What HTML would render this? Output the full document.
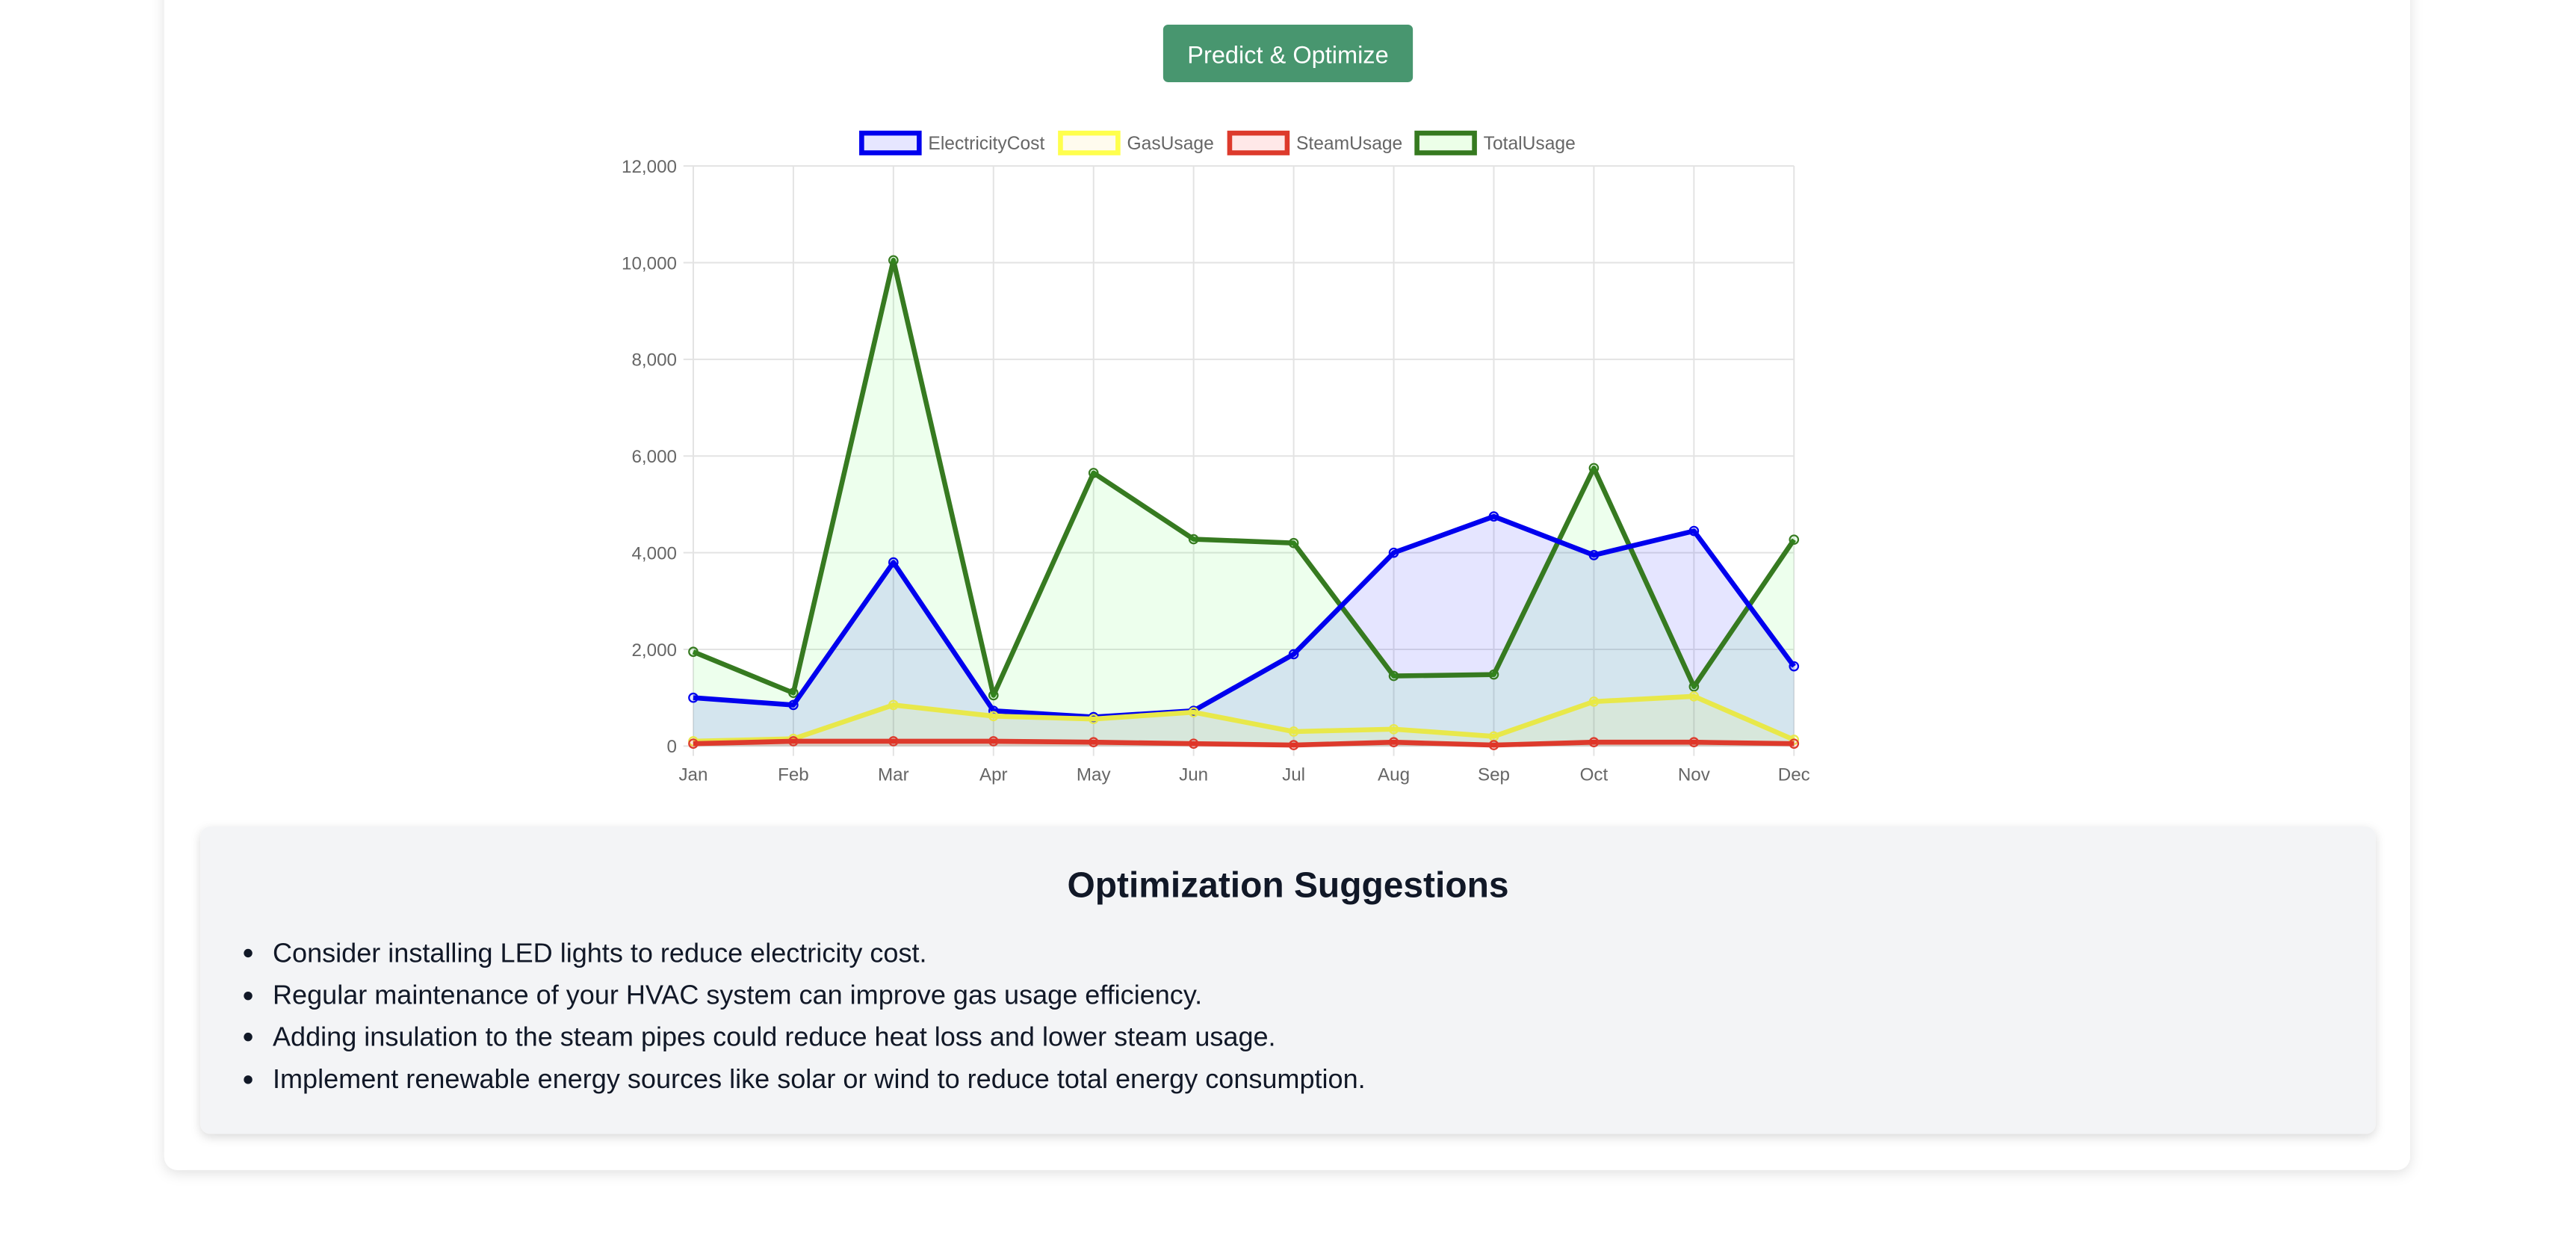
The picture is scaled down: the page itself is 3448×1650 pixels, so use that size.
<!DOCTYPE html>
<html><head><meta charset="utf-8"><style>
html,body{margin:0;padding:0;background:#fff;width:3448px;height:1650px;overflow:hidden}
svg{display:block}
text{font-family:"Liberation Sans",Arial,sans-serif}
</style></head><body>
<svg id="root" width="3448" height="1650" viewBox="0 0 1568 750.3" preserveAspectRatio="none">
<defs><filter id="sh" x="-5%" y="-5%" width="110%" height="115%"><feDropShadow dx="0" dy="2" stdDeviation="4" flood-color="#000" flood-opacity="0.12"/></filter>
<filter id="sh2" x="-5%" y="-5%" width="110%" height="115%"><feDropShadow dx="0" dy="2" stdDeviation="3" flood-color="#000" flood-opacity="0.15"/></filter></defs>
<rect x="100" y="-20" width="1367" height="732" rx="8" fill="#fff" filter="url(#sh)"/>
<g>
<rect x="708" y="15" width="152" height="35" rx="3" fill="#48966f"/>
<text x="784" y="38.5" text-anchor="middle" font-size="14.8" fill="#fff">Predict &amp; Optimize</text></g>
<g id="legend"></g>
<g id="grid"></g><g id="series"></g><g id="axes"></g>
<rect x="122" y="503" width="1324" height="187" rx="6" fill="#f3f4f6" filter="url(#sh2)"/>
<text x="784" y="546" text-anchor="middle" font-size="21.8" font-weight="bold" fill="#111827">Optimization Suggestions</text>
<g font-size="16.4" fill="#111827">
<circle cx="151" cy="580" r="2.6" fill="#111827"/><text x="166" y="585.5">Consider installing LED lights to reduce electricity cost.</text>
<circle cx="151" cy="606" r="2.6" fill="#111827"/><text x="166" y="611">Regular maintenance of your HVAC system can improve gas usage efficiency.</text>
<circle cx="151" cy="631" r="2.6" fill="#111827"/><text x="166" y="636.5">Adding insulation to the steam pipes could reduce heat loss and lower steam usage.</text>
<circle cx="151" cy="657" r="2.6" fill="#111827"/><text x="166" y="662">Implement renewable energy sources like solar or wind to reduce total energy consumption.</text>
</g>
</svg>
<script>
const months=["Jan","Feb","Mar","Apr","May","Jun","Jul","Aug","Sep","Oct","Nov","Dec"];
const electricityCost=[1000,850,3800,730,600,730,1900,4000,4750,3950,4450,1650];
const gasUsage=[100,150,850,620,560,700,300,350,200,920,1030,130];
const steamUsage=[50,100,100,100,80,50,20,80,20,80,80,50];
const totalUsage=[1950,1100,10050,1050,5650,4280,4200,1450,1480,5750,1230,4270];
const yTicks=[0,2000,4000,6000,8000,10000,12000];
const seriesNames=["ElectricityCost","GasUsage","SteamUsage","TotalUsage"];
const NS="http://www.w3.org/2000/svg";
const X0=422,X1=1092,Y0=454,Y1=101,YMAX=12000;
function xs(i){return X0+(X1-X0)*i/(months.length-1);}
function ys(v){return Y0-(Y0-Y1)*v/YMAX;}
function mk(tag,attrs,parent){const e=document.createElementNS(NS,tag);for(const k in attrs)e.setAttribute(k,attrs[k]);parent.appendChild(e);return e;}
const grid=document.getElementById('grid'),axes=document.getElementById('axes'),ser=document.getElementById('series'),leg=document.getElementById('legend');
yTicks.forEach(t=>{
 const l=mk('line',{x1:X0-6,x2:X1,y1:ys(t),y2:ys(t),stroke:'#e3e3e3','stroke-width':0.9},grid);
 
 
 const tx=mk('text',{x:X0-10,y:ys(t)+4,'text-anchor':'end','font-size':11,fill:'#666'},axes);
 tx.textContent=t.toLocaleString('en-US');
 
 
});
months.forEach((m,i)=>{
 const l=mk('line',{x1:xs(i),x2:xs(i),y1:Y1,y2:Y0+6,stroke:'#e3e3e3','stroke-width':0.9},grid);
 
 
 const tx=mk('text',{x:xs(i),y:Y0+21,'text-anchor':'middle','font-size':11,fill:'#666'},axes);
 tx.textContent=m;
 
 
});
const cfg=[
 {d:totalUsage,c:'#367a20',f:'rgba(0,255,0,0.07)'},
 {d:electricityCost,c:'#0000ee',f:'rgba(0,0,255,0.1)'},
 {d:gasUsage,c:'#e8e84a',f:'rgba(255,255,0,0.08)'},
 {d:steamUsage,c:'#dd3a2c',f:'rgba(255,0,0,0.1)'}];
const order=[3,0,1,2];
cfg.forEach((s,k)=>{
 const pts=s.d.map((v,i)=>xs(i)+','+ys(v)).join(' ');
 const a=mk('polygon',{points:xs(0)+','+Y0+' '+pts+' '+xs(s.d.length-1)+','+Y0,fill:s.f},ser);
 
 
});
cfg.forEach((s,k)=>{
 const nm=seriesNames[order[k]].toLowerCase();
 const pts=s.d.map((v,i)=>xs(i)+','+ys(v)).join(' ');
 const p=mk('polyline',{points:pts,fill:'none',stroke:s.c,'stroke-width':3,'stroke-linejoin':'round'},ser);
 
 
 s.d.forEach((v,i)=>{
  const c=mk('circle',{cx:xs(i),cy:ys(v),r:2.6,fill:s.f,stroke:s.c,'stroke-width':1},ser);
  
  
 });
});
const legCols=['#0000ee','#ffff4d','#dd3a2c','#367a20'],legFill=['#e6e6ff','#fffbee','#ffe8e8','#ecffe8'];
const legX=[523,644,747,861];
seriesNames.forEach((n,i)=>{
 const g=mk('g',{},leg);
 
 
 mk('rect',{x:legX[i]+1.5,y:81,width:35,height:12,fill:legFill[i],stroke:legCols[i],'stroke-width':3},g);
 const t=mk('text',{x:legX[i]+42,y:91,'font-size':11.2,fill:'#666'},g);
 t.textContent=n;
});
</script>
</body></html>
